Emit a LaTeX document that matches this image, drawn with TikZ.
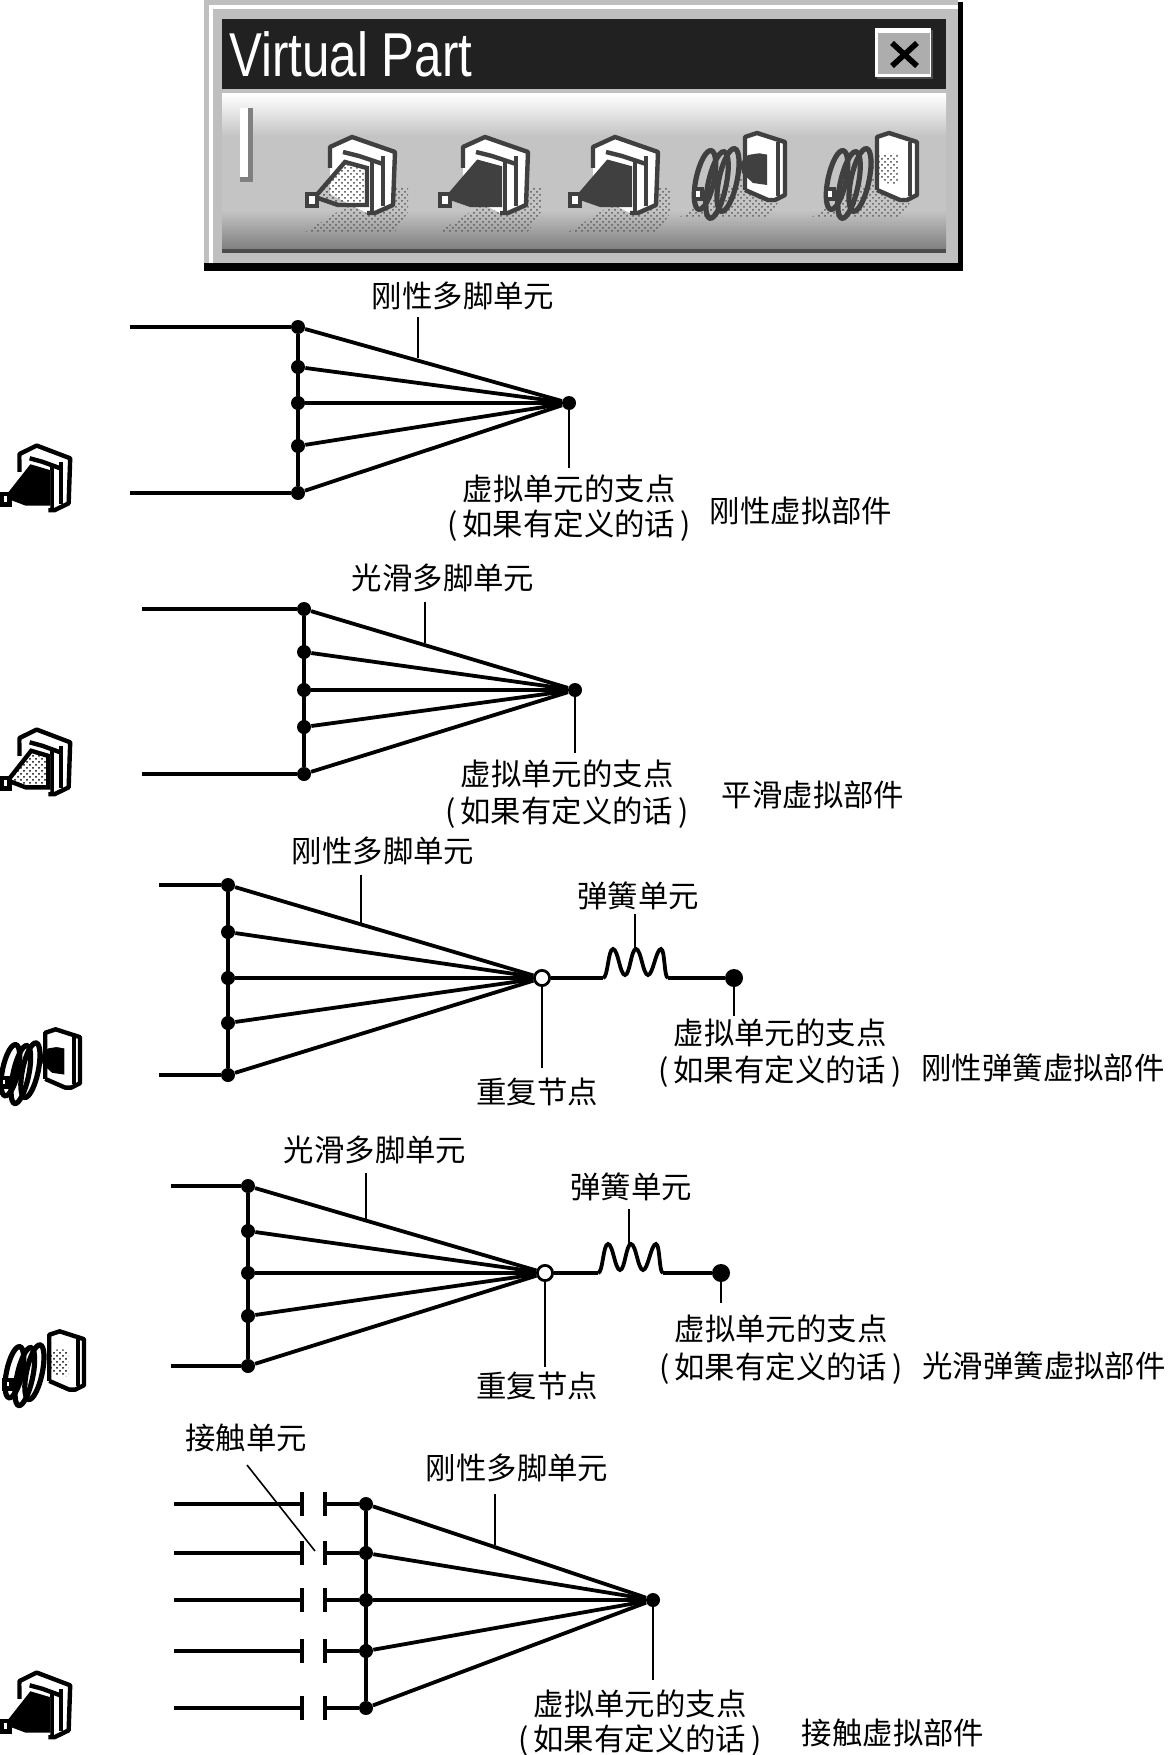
\documentclass[tikz,border=0pt]{standalone}
\usepackage{fontspec}
\setmainfont{Noto Sans CJK SC}
\newfontfamily\titlefont{Liberation Sans}
\usetikzlibrary{patterns}
\newcommand{\parenline}{(\hspace{2.5pt}如果有定义的话\hspace{2.5pt})}
\tikzset{
  mainline/.style={line width=1.9pt},
  leader/.style={line width=.8pt},
  jointdot/.style={circle,fill=black,inner sep=0pt,minimum size=7pt},
  enddot/.style={circle,fill=black,inner sep=0pt,minimum size=9pt},
  opendot/.style={circle,draw=black,fill=white,line width=1.4pt,inner sep=0pt,minimum size=7.6pt},
  gapplate/.style={rectangle,fill=black,inner sep=0pt,minimum width=2pt,minimum height=12.4pt},
  cnlabel/.style={font=\fontsize{15.2}{15.2}\selectfont,inner sep=0pt,yshift=-.6pt},
  pics/springpic/.style={code={
    \draw (0,0) .. controls (5,0) and (5,-29) .. (10,-29) .. controls (15,-29) and (17,-3) .. (22,-3)
      .. controls (27,-3) and (28,-29) .. (33,-29) .. controls (38,-29) and (40,-3) .. (45,-3)
      .. controls (50,-3) and (53,-29) .. (58,-29) .. controls (62,-29) and (61,0) .. (65,0);
  }},
  pics/shadowpic/.style={code={
    \path[pattern=crosshatch dots,pattern color=black!65] (0,98) -- (23,84) -- (70,54) -- (103,54) -- (103,78) -- (90,98) -- cycle;
  }},
  pics/platepic/.style={code={
    \fill[white] (25,13) -- (47,3) -- (90,18) -- (88,71) -- (70,79) -- (62,79) -- (25,60) -- cycle;
    \draw[#1,line width=2.2pt,line join=bevel] (25,34) -- (25,13) -- (47,3) -- (90,18) -- (88,71) -- (70,79) -- (62,79);
    \draw[#1,line width=2.2pt] (67,28) -- (67,81);
    \draw[#1,line width=2.2pt] (38,18) -- (54,22) -- (78,30);
    \draw[#1,line width=1.8pt] (78,22) -- (78,72);
    \draw[white,line width=2pt] (30,16) -- (32,27) -- (62,34) -- (62,76);
  }},
  pics/conepic/.style={code={
    \path[pic actions] (10,63) -- (40,28) -- (62,34) -- (62,71) -- (33,71) -- cycle;
    \draw[#1,line width=2.2pt] (10,63) -- (40,28) -- (62,34) -- (62,71) -- (33,71) -- cycle;
    \filldraw[fill=white,draw=#1,line width=2.4pt] (2,60) rectangle (12,72);
  }},
  pics/coilpic/.style={code={
    \draw[#1,line width=2.6pt] (20,60) ellipse [x radius=9,y radius=30,rotate=-12];
    \draw[#1,line width=2.6pt] (32,65) ellipse [x radius=9,y radius=34,rotate=-12];
    \draw[#1,line width=2.6pt] (43,60) ellipse [x radius=9,y radius=32,rotate=-12];
    \filldraw[fill=white,draw=#1,line width=2.4pt] (9,69) rectangle (17,79);
    \fill[white] (60,17) -- (72,13) -- (100,22) -- (100,75) -- (90,80) -- (83,80) -- (60,70) -- cycle;
    \draw[#1,line width=2.2pt,line join=bevel] (60,70) -- (60,17) -- (72,13) -- (100,22) -- (100,75) -- (90,80) -- (83,80) -- (60,70);
    \draw[#1,line width=1.8pt] (93,22) -- (93,76);
  }},
  pics/coilfacepic/.style={code={
    \path[pic actions] (55,43) -- (63,35) -- (82,32) -- (82,65) -- (68,63) -- (57,53) -- cycle;
    \draw[white,line width=2pt] (65,22) -- (67,30) -- (85,33) -- (85,72) -- (65,65);
  }}
}
\begin{document}
\begin{tikzpicture}[x=.5pt,y=-.5pt]
\useasboundingbox (0,0) rectangle (1168,1755);

\fill[black] (204,2) rectangle (963,271);
\fill[black!25] (204,0) rectangle (958,263);
\fill[white] (209,5) rectangle (958,9);
\fill[white] (209,5) rectangle (213,263);
\fill[black!87] (222,19) rectangle (946,89);
\shade[top color=white,bottom color=black!23] (222,94) rectangle (946,136);
\fill[black!23] (222,136) rectangle (946,210);
\shade[top color=black!23,bottom color=black!50] (222,210) rectangle (946,249);
\fill[black!70] (222,249) rectangle (946,253);
\node[text=white,anchor=west,inner sep=0pt] (title) at (229,54) {\titlefont\fontsize{31}{31}\selectfont\scalebox{.795}[1]{Virtual Part}};
\fill[black!70] (877,30) rectangle (933,79);
\fill[white] (875,28) rectangle (931,77);
\fill[black!32] (878,33) rectangle (930,74);
\draw[black,line width=2.8pt] (892,43) -- (917,66) (917,43) -- (892,66);
\fill[white] (240,108) rectangle (248,182);
\fill[black!50] (248,108) rectangle (253,182);
\fill[black!50] (240,177) rectangle (253,182);

\pic at (305,134) {shadowpic};
\pic at (305,134) {platepic=black!75};
\pic[pattern=crosshatch dots,pattern color=black!75] at (305,134) {conepic=black!75};
\pic at (438,134) {shadowpic};
\pic at (438,134) {platepic=black!75};
\pic[fill=black!75] at (438,134) {conepic=black!75};
\pic at (568,134) {shadowpic};
\pic at (568,134) {platepic=black!75};
\pic[fill=black!75] at (568,134) {conepic=black!75};
\pic at (678,120) {shadowpic};
\pic at (685,120) {coilpic=black!75};
\pic[fill=black!75] at (685,120) {coilfacepic};
\pic at (810,120) {shadowpic};
\pic at (817,120) {coilpic=black!75};
\pic[pattern=crosshatch dots,pattern color=black!75] at (817,120) {coilfacepic};

\pic[xscale=.78,yscale=.85] at (0,443) {platepic=black};
\pic[xscale=.78,yscale=.85,fill=black] at (0,443) {conepic=black};
\pic[xscale=.78,yscale=.85] at (0,727) {platepic=black};
\pic[xscale=.78,yscale=.85,pattern=crosshatch dots,pattern color=black] at (0,727) {conepic=black};
\pic[scale=.87] at (-7,1018) {coilpic=black};
\pic[scale=.87,fill=black] at (-7,1018) {coilfacepic};
\pic[scale=.87] at (-3,1320) {coilpic=black};
\pic[scale=.87,pattern=crosshatch dots,pattern color=black] at (-3,1320) {coilfacepic};
\pic[xscale=.78,yscale=.85] at (0,1670) {platepic=black};
\pic[xscale=.78,yscale=.85,fill=black] at (0,1670) {conepic=black};

\coordinate (ra) at (130,327);
\coordinate (rb) at (130,493);
\node[jointdot] (r1) at (298,327) {};
\node[jointdot] (r2) at (298,367) {};
\node[jointdot] (r3) at (298,403) {};
\node[jointdot] (r4) at (298,446) {};
\node[jointdot] (r5) at (298,493) {};
\node[jointdot] (rp) at (569,403) {};
\coordinate (rc) at (418,317);
\coordinate (rd) at (418,358);
\coordinate (re) at (569,468);
\node[cnlabel] (rx) at (463,295) {刚性多脚单元};
\node[cnlabel] (ry) at (569,488) {虚拟单元的支点};
\node[cnlabel] (rz) at (569,524) {\parenline};
\node[cnlabel] (rn) at (801,510) {刚性虚拟部件};
\draw[mainline] (ra) -- (r1);
\draw[mainline] (rb) -- (r5);
\draw[mainline] (r1) -- (r5);
\draw[mainline] (r1) -- (rp);
\draw[mainline] (r2) -- (rp);
\draw[mainline] (r3) -- (rp);
\draw[mainline] (r4) -- (rp);
\draw[mainline] (r5) -- (rp);
\draw[leader] (rc) -- (rd);
\draw[leader] (rp) -- (re);

\coordinate (sa) at (142,609);
\coordinate (sb) at (142,774);
\node[jointdot] (s1) at (304,609) {};
\node[jointdot] (s2) at (304,652) {};
\node[jointdot] (s3) at (304,690) {};
\node[jointdot] (s4) at (304,727) {};
\node[jointdot] (s5) at (304,774) {};
\node[jointdot] (sp) at (575,690) {};
\coordinate (sc) at (425,602);
\coordinate (sd) at (425,643);
\coordinate (se) at (575,753);
\node[cnlabel] (sx) at (443,577) {光滑多脚单元};
\node[cnlabel] (sy) at (567,773) {虚拟单元的支点};
\node[cnlabel] (sz) at (567,811) {\parenline};
\node[cnlabel] (sn) at (813,794) {平滑虚拟部件};
\draw[mainline] (sa) -- (s1);
\draw[mainline] (sb) -- (s5);
\draw[mainline] (s1) -- (s5);
\draw[mainline] (s1) -- (sp);
\draw[mainline] (s2) -- (sp);
\draw[mainline] (s3) -- (sp);
\draw[mainline] (s4) -- (sp);
\draw[mainline] (s5) -- (sp);
\draw[leader] (sc) -- (sd);
\draw[leader] (sp) -- (se);

\coordinate (ta) at (159,885);
\coordinate (tb) at (159,1075);
\node[jointdot] (t1) at (228,885) {};
\node[jointdot] (t2) at (228,932) {};
\node[jointdot] (t3) at (228,978) {};
\node[jointdot] (t4) at (228,1023) {};
\node[jointdot] (t5) at (228,1075) {};
\node[opendot] (tp) at (542,978) {};
\node[enddot] (tq) at (734,978) {};
\coordinate (tf) at (603,978);
\coordinate (tg) at (668,978);
\coordinate (tc) at (361,875);
\coordinate (td) at (361,924);
\coordinate (th) at (635,914);
\coordinate (ti) at (635,949);
\coordinate (te) at (542,1068);
\coordinate (tj) at (734,1016);
\node[cnlabel] (tx) at (383,850) {刚性多脚单元};
\node[cnlabel] (tw) at (638,895) {弹簧单元};
\node[cnlabel] (tv) at (537,1091) {重复节点};
\node[cnlabel] (ty) at (780,1032) {虚拟单元的支点};
\node[cnlabel] (tz) at (780,1070) {\parenline};
\node[cnlabel] (tn) at (1043,1067) {刚性弹簧虚拟部件};
\draw[mainline] (ta) -- (t1);
\draw[mainline] (tb) -- (t5);
\draw[mainline] (t1) -- (t5);
\draw[mainline] (t1) -- (tp);
\draw[mainline] (t2) -- (tp);
\draw[mainline] (t3) -- (tp);
\draw[mainline] (t4) -- (tp);
\draw[mainline] (t5) -- (tp);
\draw[mainline] (tp) -- (tf);
\pic[mainline] at (tf) {springpic};
\draw[mainline] (tg) -- (tq);
\draw[leader] (tc) -- (td);
\draw[leader] (th) -- (ti);
\draw[leader] (tp) -- (te);
\draw[leader] (tq) -- (tj);

\coordinate (ua) at (171,1186);
\coordinate (ub) at (171,1366);
\node[jointdot] (u1) at (248,1186) {};
\node[jointdot] (u2) at (248,1231) {};
\node[jointdot] (u3) at (248,1273) {};
\node[jointdot] (u4) at (248,1316) {};
\node[jointdot] (u5) at (248,1366) {};
\node[opendot] (up) at (545,1273) {};
\node[enddot] (uq) at (721,1273) {};
\coordinate (uf) at (598,1273);
\coordinate (ug) at (663,1273);
\coordinate (uc) at (366,1173);
\coordinate (ud) at (366,1220);
\coordinate (uh) at (629,1209);
\coordinate (ui) at (629,1244);
\coordinate (ue) at (545,1367);
\coordinate (uj) at (721,1303);
\node[cnlabel] (ux) at (375,1149) {光滑多脚单元};
\node[cnlabel] (uw) at (631,1186) {弹簧单元};
\node[cnlabel] (uv) at (537,1385) {重复节点};
\node[cnlabel] (uy) at (781,1328) {虚拟单元的支点};
\node[cnlabel] (uz) at (781,1367) {\parenline};
\node[cnlabel] (un) at (1044,1365) {光滑弹簧虚拟部件};
\draw[mainline] (ua) -- (u1);
\draw[mainline] (ub) -- (u5);
\draw[mainline] (u1) -- (u5);
\draw[mainline] (u1) -- (up);
\draw[mainline] (u2) -- (up);
\draw[mainline] (u3) -- (up);
\draw[mainline] (u4) -- (up);
\draw[mainline] (u5) -- (up);
\draw[mainline] (up) -- (uf);
\pic[mainline] at (uf) {springpic};
\draw[mainline] (ug) -- (uq);
\draw[leader] (uc) -- (ud);
\draw[leader] (uh) -- (ui);
\draw[leader] (up) -- (ue);
\draw[leader] (uq) -- (uj);

\coordinate (va) at (174,1504);
\coordinate (vb) at (174,1553);
\coordinate (vc) at (174,1600);
\coordinate (vd) at (174,1651);
\coordinate (ve) at (174,1708);
\node[gapplate] (vl1) at (302,1504) {};
\node[gapplate] (vl2) at (302,1553) {};
\node[gapplate] (vl3) at (302,1600) {};
\node[gapplate] (vl4) at (302,1651) {};
\node[gapplate] (vl5) at (302,1708) {};
\node[gapplate] (vr1) at (325,1504) {};
\node[gapplate] (vr2) at (325,1553) {};
\node[gapplate] (vr3) at (325,1600) {};
\node[gapplate] (vr4) at (325,1651) {};
\node[gapplate] (vr5) at (325,1708) {};
\node[jointdot] (v1) at (366,1504) {};
\node[jointdot] (v2) at (366,1553) {};
\node[jointdot] (v3) at (366,1600) {};
\node[jointdot] (v4) at (366,1651) {};
\node[jointdot] (v5) at (366,1708) {};
\node[jointdot] (vp) at (653,1600) {};
\coordinate (vf) at (247,1465);
\coordinate (vg) at (315,1551);
\coordinate (vh) at (495,1494);
\coordinate (vi) at (495,1545);
\coordinate (vj) at (653,1680);
\node[cnlabel] (vw) at (246,1437) {接触单元};
\node[cnlabel] (vx) at (517,1467) {刚性多脚单元};
\node[cnlabel] (vy) at (640,1703) {虚拟单元的支点};
\node[cnlabel] (vz) at (640,1739) {\parenline};
\node[cnlabel] (vn) at (893,1732) {接触虚拟部件};
\draw[mainline] (va) -- (vl1);
\draw[mainline] (vb) -- (vl2);
\draw[mainline] (vc) -- (vl3);
\draw[mainline] (vd) -- (vl4);
\draw[mainline] (ve) -- (vl5);
\draw[mainline] (vr1) -- (v1);
\draw[mainline] (vr2) -- (v2);
\draw[mainline] (vr3) -- (v3);
\draw[mainline] (vr4) -- (v4);
\draw[mainline] (vr5) -- (v5);
\draw[mainline] (v1) -- (v5);
\draw[mainline] (v1) -- (vp);
\draw[mainline] (v2) -- (vp);
\draw[mainline] (v3) -- (vp);
\draw[mainline] (v4) -- (vp);
\draw[mainline] (v5) -- (vp);
\draw[leader] (vf) -- (vg);
\draw[leader] (vh) -- (vi);
\draw[leader] (vp) -- (vj);
\end{tikzpicture}
\end{document}
